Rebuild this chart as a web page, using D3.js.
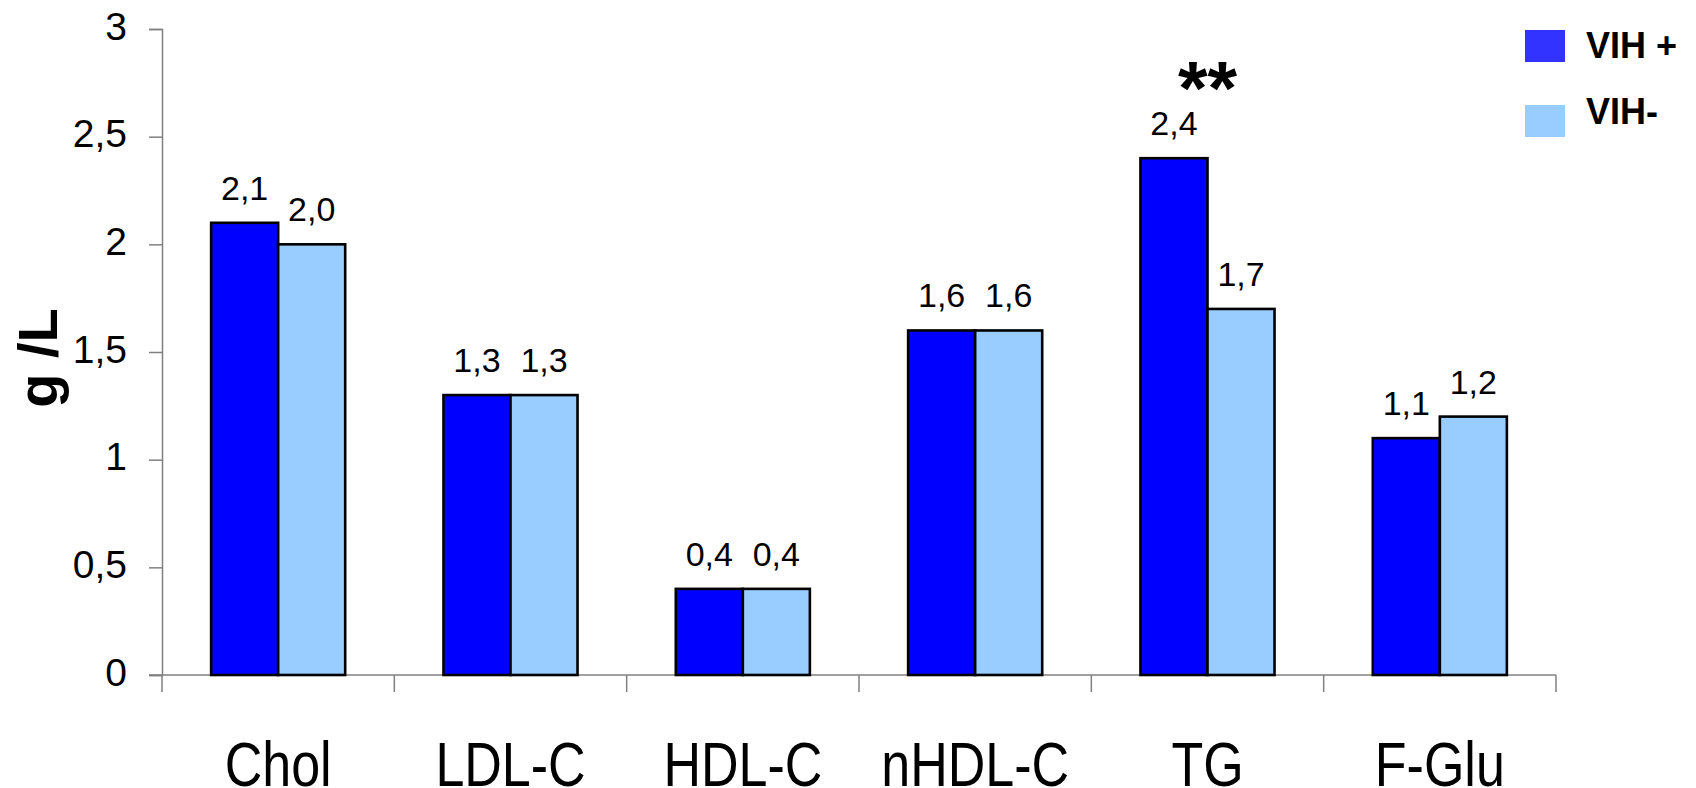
<!DOCTYPE html>
<html>
<head>
<meta charset="utf-8">
<script src="https://cdn.jsdelivr.net/npm/d3@7/dist/d3.min.js"></script>
<style>
  html, body { margin: 0; padding: 0; background: #fff; }
  svg { display: block; font-family: "Liberation Sans", Arial, sans-serif; }
</style>
</head>
<body>
<svg id="chart" width="1696" height="788"></svg>
<script>
// Lipid and glucose levels (g/L) by HIV status
const categories = ["Chol", "LDL-C", "HDL-C", "nHDL-C", "TG", "F-Glu"];
const seriesNames = ["VIH +", "VIH-"];
const vihPos = [2.1, 1.3, 0.4, 1.6, 2.4, 1.1];
const vihNeg = [2.0, 1.3, 0.4, 1.6, 1.7, 1.2];
const yTicks = [0, 0.5, 1, 1.5, 2, 2.5, 3];
const yLabel = "g /L";
const significance = [{ category: "TG", mark: "**" }];

const barColors = { "VIH +": "#0000ff", "VIH-": "#99ccff" };
const legendColors = { "VIH +": "#3333ff", "VIH-": "#99ccff" };

const svg = d3.select("#chart");
const plot = { left: 162, right: 1556, top: 29, bottom: 675 };

const x0 = d3.scaleBand().domain(categories).range([plot.left, plot.right]).padding(0);
const x1 = d3.scaleBand().domain(seriesNames).range([0, x0.bandwidth()])
  .paddingInner(0).paddingOuter(0.733);
const y = d3.scaleLinear().domain([0, 3]).range([plot.bottom, plot.top]);

const comma = v => String(v).replace(".", ",");
const fmt1 = v => d3.format(".1f")(v).replace(".", ",");

const rows = categories.map((c, i) => ({
  category: c,
  values: [
    { series: "VIH +", value: vihPos[i] },
    { series: "VIH-", value: vihNeg[i] }
  ]
}));

// Y axis
const yAxis = d3.axisLeft(y).tickValues(yTicks).tickFormat(comma).tickSize(13).tickPadding(22);
const yg = svg.append("g").attr("transform", `translate(${plot.left},0)`).call(yAxis);
yg.select(".domain").attr("stroke", "#808080").attr("stroke-width", 1.5);
yg.selectAll(".tick line").attr("stroke", "#808080").attr("stroke-width", 1.5);
yg.selectAll(".tick text")
  .attr("font-size", 39).attr("fill", "#000")
  .attr("dy", "0.26em");

// X axis baseline and category separators
svg.append("line")
  .attr("x1", plot.left - 13).attr("x2", plot.right)
  .attr("y1", y(0)).attr("y2", y(0))
  .attr("stroke", "#808080").attr("stroke-width", 1.5);
const boundaries = categories.map(c => x0(c)).concat([x0(categories[categories.length - 1]) + x0.bandwidth()]);
svg.append("g").selectAll("line").data(boundaries).join("line")
  .attr("x1", d => d).attr("x2", d => d)
  .attr("y1", y(0)).attr("y2", y(0) + 17)
  .attr("stroke", "#808080").attr("stroke-width", 1.5);

// Category labels (tall, condensed lettering)
svg.append("g").selectAll("text").data(categories).join("text")
  .attr("transform", d => `translate(${x0(d) + x0.bandwidth() / 2},786) scale(1,1.21)`)
  .attr("text-anchor", "middle")
  .attr("font-size", 52)
  .attr("fill", "#000")
  .text(d => d);

// Bars
const groups = svg.append("g").selectAll("g").data(rows).join("g")
  .attr("transform", d => `translate(${x0(d.category)},0)`);

groups.selectAll("rect").data(d => d.values).join("rect")
  .attr("x", d => x1(d.series))
  .attr("y", d => y(d.value))
  .attr("width", x1.bandwidth())
  .attr("height", d => y(0) - y(d.value))
  .attr("fill", d => barColors[d.series])
  .attr("stroke", "#000")
  .attr("stroke-width", 2.6);

// Value labels
groups.selectAll("text.val").data(d => d.values).join("text")
  .attr("class", "val")
  .attr("x", d => x1(d.series) + x1.bandwidth() / 2)
  .attr("y", d => y(d.value) - 23)
  .attr("text-anchor", "middle")
  .attr("font-size", 34)
  .attr("fill", "#000")
  .text(d => fmt1(d.value));

// Significance marks
svg.append("g").selectAll("text").data(significance).join("text")
  .attr("x", d => x0(d.category) + x0.bandwidth() / 2)
  .attr("y", 114)
  .attr("text-anchor", "middle")
  .attr("font-size", 76)
  .attr("font-weight", "bold")
  .attr("fill", "#000")
  .text(d => d.mark);

// Y axis title
svg.append("text")
  .attr("transform", "translate(57,358) rotate(-90)")
  .attr("text-anchor", "middle")
  .attr("font-size", 56)
  .attr("font-weight", "bold")
  .attr("fill", "#000")
  .text(yLabel);

// Legend
const legend = svg.append("g").selectAll("g").data(seriesNames).join("g")
  .attr("transform", (d, i) => `translate(1525,${30 + i * 75})`);
legend.append("rect")
  .attr("width", 40).attr("height", 32)
  .attr("fill", d => legendColors[d]);
legend.append("text")
  .attr("x", 61)
  .attr("y", (d, i) => i === 0 ? 28 : 19)
  .attr("font-size", 36)
  .attr("font-weight", "bold")
  .attr("fill", "#000")
  .text(d => d);
</script>
</body>
</html>
